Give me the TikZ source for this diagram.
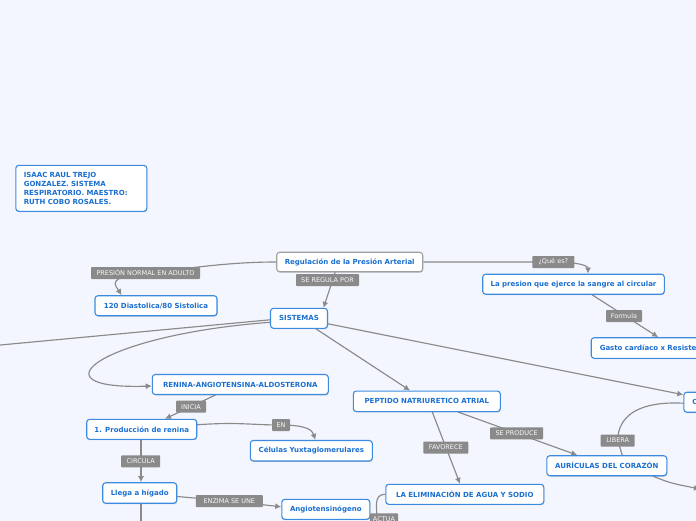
\documentclass[tikz,border=0pt]{standalone}
\usepackage{fontspec}
\setmainfont{DejaVu Sans}
\usetikzlibrary{arrows.meta,backgrounds,shadows}
\definecolor{bg}{HTML}{F3F6FE}
\definecolor{nodeblue}{HTML}{3D8BE0}
\definecolor{textblue}{HTML}{1A6FD0}
\definecolor{labgray}{HTML}{8A8A8A}
\definecolor{linegray}{HTML}{8A8A8A}
\definecolor{rootgray}{HTML}{A0A0A0}
\tikzset{
  box/.style={draw=nodeblue, line width=1.1pt, rounded corners=3pt, fill=white,
    text=textblue, font=\fontsize{7}{8.8}\selectfont\bfseries, inner sep=0pt,
    minimum height=20pt,
    drop shadow={shadow xshift=0.5pt, shadow yshift=-0.9pt, opacity=0.2, fill=black}},
  rootbox/.style={box, draw=rootgray},
  lab/.style={fill=labgray, text=white!94!labgray, font=\fontsize{6.5}{7}\selectfont,
    inner sep=0pt, minimum height=12pt, rounded corners=0.8pt},
  conn/.style={draw=linegray, line width=1.15pt},
  arr/.style={conn, -{Latex[length=6pt,width=6pt]}},
}
\begin{document}
\begin{tikzpicture}[x=1pt,y=-1pt]
\useasboundingbox (0,0) rectangle (696,520);
% nodes
\node[box, minimum width=131pt, minimum height=46pt, text width=115pt, align=left, inner xsep=8pt] (author) at (81.3,188.3)
  {ISAAC RAUL TREJO\\GONZALEZ. SISTEMA\\RESPIRATORIO. MAESTRO:\\RUTH COBO ROSALES.};
\node[rootbox, minimum width=146pt, minimum height=19.5pt] (root) at (349.7,262) {Regulación de la Presión Arterial};
\node[box, minimum width=57pt] (sist) at (299,318.3) {SISTEMAS};
\node[box, minimum width=122pt] (n120) at (156,305.7) {120 Diastolica/80 Sistolica};
\node[box, minimum width=181.6pt] (pres) at (573.5,284.2) {La presion que ejerce la sangre al circular};
\node[box, anchor=west, minimum height=20.6pt, text width=140pt, align=left, inner xsep=8.5pt] (gasto) at (590.7,348) {Gasto cardíaco x Resistencia};
\node[box, minimum width=176pt] (renina) at (240.3,384.5) {RENINA-ANGIOTENSINA-ALDOSTERONA};
\node[box, minimum width=147pt, minimum height=20.5pt] (pep) at (426.8,401.3) {PEPTIDO NATRIURETICO ATRIAL};
\node[box, anchor=west, text width=60pt, align=left, inner xsep=8.5pt] (cn) at (683.3,402.2) {C};
\node[box, minimum width=110pt] (prod) at (141.7,429.3) {1. Producción de renina};
\node[box, minimum width=122pt, minimum height=20.5pt] (cel) at (311.3,450.7) {Células Yuxtaglomerulares};
\node[box, minimum width=120pt] (aur) at (606.8,465.7) {AURÍCULAS DEL CORAZÓN};
\node[box, minimum width=74pt, minimum height=20.5pt] (llega) at (139.7,493) {Llega a hígado};
\node[box, minimum width=88pt] (ang) at (325.8,509.3) {Angiotensinógeno};
\node[box, minimum width=158pt] (elim) at (464.8,494.3) {LA ELIMINACIÓN DE AGUA Y SODIO};
% labels
\node[lab, minimum width=109pt] (lPN) at (145.5,273) {PRESIÓN NORMAL EN ADULTO};
\node[lab, minimum width=63pt] (lSR) at (327.5,280) {SE REGULA POR};
\node[lab, minimum width=42pt] (lQ) at (553.3,262) {¿Qué es?};
\node[lab, minimum width=36pt] (lF) at (624,316) {Formula};
\node[lab, minimum width=30pt] (lIni) at (191,406.7) {INICIA};
\node[lab, minimum width=18pt] (lEN) at (281,425) {EN};
\node[lab, minimum width=39pt] (lCir) at (140.7,461.3) {CIRCULA};
\node[lab, minimum width=67pt] (lEnz) at (229.3,501) {ENZIMA SE UNE};
\node[lab, minimum width=45pt] (lFav) at (445.8,447.5) {FAVORECE};
\node[lab, minimum width=53pt] (lSP) at (516.7,433.3) {SE PRODUCE};
\node[lab, minimum width=34pt] (lLib) at (617.7,440.5) {LIBERA};
\node[lab, minimum width=28pt] (lAct) at (384,519.3) {ACTUA};
\coordinate (offL) at (-5,345.5);
\coordinate (offB) at (141,530);
\coordinate (offR) at (700,489);
% connectors
\begin{scope}[on background layer]
\fill[bg] (-10,-10) rectangle (706,530);
\draw[arr] (root.west) .. controls +(-50,0) and +(40,-4) .. (lPN.center)
  .. controls +(-40,4) and +(-6,-10) .. ([xshift=27pt]n120.north west);
\draw[arr] ([xshift=-14.5pt]root.south) -- ([xshift=24.5pt]sist.north);
\draw[arr] (root.east) .. controls +(60,0) and +(-40,0) .. (lQ.center)
  .. controls +(25,0) and +(0,-8) .. ([xshift=14.5pt]pres.north);
\draw[arr] ([xshift=18.5pt]pres.south) -- ([xshift=67.5pt]gasto.north west);
\draw[conn] ([yshift=-1.5pt]sist.west) -- (offL);
\draw[arr] ([yshift=-4pt]sist.west) .. controls (100,335) and (30,390) .. ([yshift=-1.5pt]renina.west);
\draw[arr] ([xshift=17pt]sist.south) -- ([xshift=-16.8pt]pep.north);
\draw[arr] ([yshift=-5.5pt]sist.east) -- ([yshift=7.5pt]cn.west);
\draw[arr] ([xshift=-25pt]renina.south) -- (lIni.center) -- ([xshift=23.3pt]prod.north);
\draw[arr] ([yshift=4.5pt]prod.east) .. controls +(40,-3) and +(-30,0) .. (lEN.center)
  .. controls +(25,0) and +(-3,-10) .. ([xshift=4pt]cel.north);
\draw[arr] ([xshift=-0.7pt]prod.south) -- ([xshift=1.3pt]llega.north);
\draw[arr] ([yshift=-3.5pt]llega.east) -- (lEnz.center) -- ([yshift=2.5pt]ang.west);
\draw[conn] ([xshift=1.3pt]llega.south) -- (offB);
\draw[arr] ([xshift=5.5pt]pep.south) -- ([xshift=-4.8pt]elim.north);
\draw[arr] ([xshift=31.5pt]pep.south) -- ([xshift=-29.5pt]aur.north);
\draw[conn] ([yshift=-1pt]cn.west) .. controls (640,401) and (618,415) .. (lLib.center)
  .. controls (620,448) .. ([xshift=15.5pt]aur.north);
\draw[arr] ([xshift=46.5pt]aur.south) .. controls (670,483) .. (offR);
\draw[conn] (elim.west) .. controls +(-12,0) and +(0,-12) .. ([xshift=-7pt]lAct.center);
\end{scope}
\end{tikzpicture}
\end{document}
